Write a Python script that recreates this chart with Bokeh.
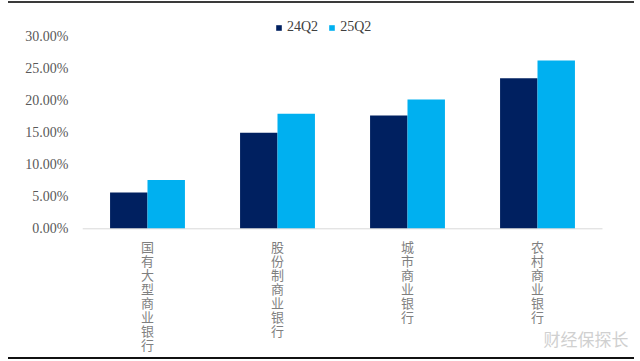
from bokeh.plotting import figure
from bokeh.models import (ColumnDataSource, Range1d, FixedTicker, Div,
                          NumeralTickFormatter, Legend, LegendItem, Label)
from bokeh.layouts import column
from bokeh.core.properties import value
from bokeh.embed import file_html
from bokeh.resources import INLINE

categories = ["国有大型商业银行", "股份制商业银行", "城市商业银行", "农村商业银行"]
series_names = ["24Q2", "25Q2"]
values_24q2 = [0.0567, 0.1498, 0.1767, 0.2349]
values_25q2 = [0.0760, 0.1794, 0.2017, 0.2626]
y_ticks = [0.0, 0.05, 0.10, 0.15, 0.20, 0.25, 0.30]

DARK = "#002060"
LIGHT = "#00B0F0"
BAR_W = 0.288

n = len(categories)
centers = [i + 0.5 for i in range(n)]
src = ColumnDataSource(dict(
    cat=categories, c=centers,
    xa=[c - BAR_W / 2 for c in centers], xb=[c + BAR_W / 2 for c in centers],
    a=values_24q2, b=values_25q2,
    lab=["\n".join(list(s)) for s in categories], zero=[0] * n))

p = figure(width=636, height=354, output_backend="svg", toolbar_location=None,
           x_range=Range1d(0, 4.2615), y_range=Range1d(-0.1992, 0.3312),
           min_border_left=82, min_border_right=0, min_border_top=13,
           min_border_bottom=1)
p.outline_line_color = None
p.xgrid.visible = False
p.ygrid.visible = False
p.xaxis.visible = False
p.background_fill_color = "white"
p.border_fill_color = "white"

r1 = p.vbar(x="xa", top="a", width=BAR_W, source=src, fill_color=DARK, line_color=None)
r2 = p.vbar(x="xb", top="b", width=BAR_W, source=src, fill_color=LIGHT, line_color=None)

# category axis line at zero
p.segment(x0=0, y0=0, x1=n, y1=0, line_color="#d9d9d9", line_width=1)

# category labels, characters stacked vertically
p.text(x="c", y="zero", text="lab", source=src,
       text_align="center", text_baseline="top", y_offset=8,
       text_font=value("Noto Sans CJK SC"), text_font_size="13px",
       text_line_height=0.74, text_color="#7f7f7f")

# y axis
ya = p.yaxis[0]
ya.ticker = FixedTicker(ticks=y_ticks)
ya.formatter = NumeralTickFormatter(format="0.00%")
ya.axis_line_color = None
ya.major_tick_line_color = None
ya.minor_tick_line_color = None
ya.major_tick_out = 0
ya.major_tick_in = 0
ya.major_label_standoff = 14
ya.major_label_text_font = "Liberation Serif"
ya.major_label_text_font_size = "14px"
ya.major_label_text_color = "#595959"

legend = Legend(items=[LegendItem(label=series_names[0], renderers=[r1]),
                       LegendItem(label=series_names[1], renderers=[r2])],
                orientation="horizontal", location=(193, 321),
                border_line_color=None, background_fill_alpha=0,
                padding=0, margin=0, spacing=10, label_standoff=5,
                glyph_width=7, glyph_height=7,
                label_text_font="Liberation Serif", label_text_font_size="14px",
                label_text_color="#404040")
p.add_layout(legend, "center")

wm = Label(x=461, y=6, x_units="screen", y_units="screen", text="财经保探长",
           text_font="Noto Sans CJK SC", text_font_size="17px",
           text_color="#d0d0d0")
p.add_layout(wm)

top_rule = Div(text="", width=626, height=2, margin=(1, 0, 0, 8),
               styles={"background-color": "#3a3a3a"})
bottom_rule = Div(text="", width=626, height=2, margin=(0, 0, 0, 8),
                  styles={"background-color": "#111111"})
page = column(top_rule, p, bottom_rule, spacing=0)

open("out.html", "w").write(file_html(page, INLINE))
